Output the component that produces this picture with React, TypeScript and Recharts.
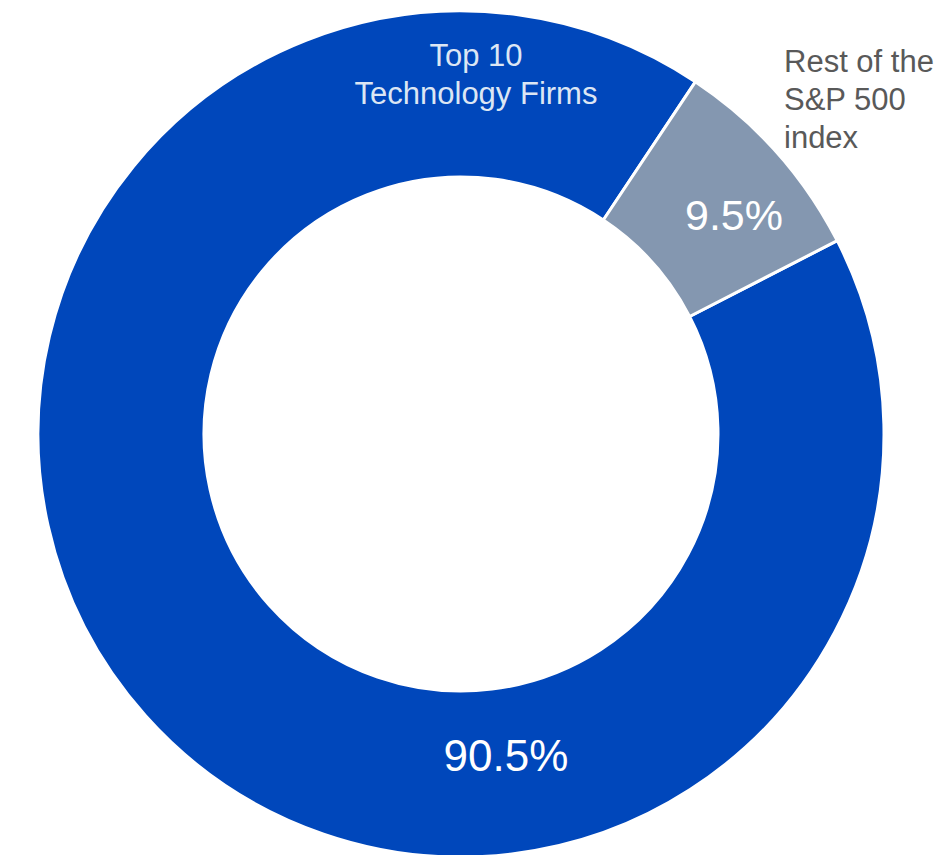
import React from "react";
import { PieChart, Pie, Cell } from "recharts";

// Segment names (each line of the label)
const segmentNames: string[][] = [
  ["Top 10", "Technology Firms"],
  ["Rest of the", "S&P 500", "index"],
];
// Slice sizes as drawn in the picture
const sliceValues: number[] = [91.9, 8.1];
// Percentage labels as printed on the picture
const shareLabels: string[] = ["90.5%", "9.5%"];

const colors = ["#0047BB", "#8497B0"];
const nameColors = ["#DCE6F4", "#595959"];

const CX = 461;
const CY = 434;
const FONT = "'Liberation Sans', Arial, Helvetica, sans-serif";

// label layout (offsets from the pie centre)
const labelLayout = [
  { pctX: 45, pctY: 337, pctSize: 44, nameX: 15, nameY: -368, anchor: "middle", lineH: 38 },
  { pctX: 273, pctY: -204, pctSize: 43, nameX: 323, nameY: -362, anchor: "start", lineH: 38 },
];

const data = segmentNames.map((n, i) => ({
  name: n.join(" "),
  value: sliceValues[i],
  label: shareLabels[i],
}));

const renderLabel = (props: any) => {
  const i: number = props.index;
  const L = labelLayout[i];
  return (
    <g key={`lbl-${i}`}>
      <text
        x={CX + L.pctX}
        y={CY + L.pctY}
        textAnchor="middle"
        fill="#FFFFFF"
        fontSize={L.pctSize}
        fontFamily={FONT}
      >
        {shareLabels[i]}
      </text>
      <text
        x={CX + L.nameX}
        y={CY + L.nameY}
        textAnchor={L.anchor as any}
        fill={nameColors[i]}
        fontSize={31}
        fontFamily={FONT}
      >
        {segmentNames[i].map((line, k) => (
          <tspan key={k} x={CX + L.nameX} dy={k === 0 ? 0 : L.lineH}>
            {line}
          </tspan>
        ))}
      </text>
    </g>
  );
};

export default function App() {
  return (
    <div style={{ position: "absolute", left: 0, top: 0, width: 946, height: 855, background: "#fff" }}>
      <PieChart width={946} height={855} margin={{ top: 0, right: 0, bottom: 0, left: 0 }}>
        <Pie
          data={data}
          dataKey="value"
          nameKey="name"
          cx={CX}
          cy={CY}
          innerRadius={257}
          outerRadius={423}
          startAngle={27.2}
          endAngle={-332.8}
          stroke="#FFFFFF"
          strokeWidth={3}
          label={renderLabel}
          labelLine={false}
          isAnimationActive={false}
        >
          {data.map((d, i) => (
            <Cell key={d.name} fill={colors[i]} />
          ))}
        </Pie>
      </PieChart>
    </div>
  );
}
